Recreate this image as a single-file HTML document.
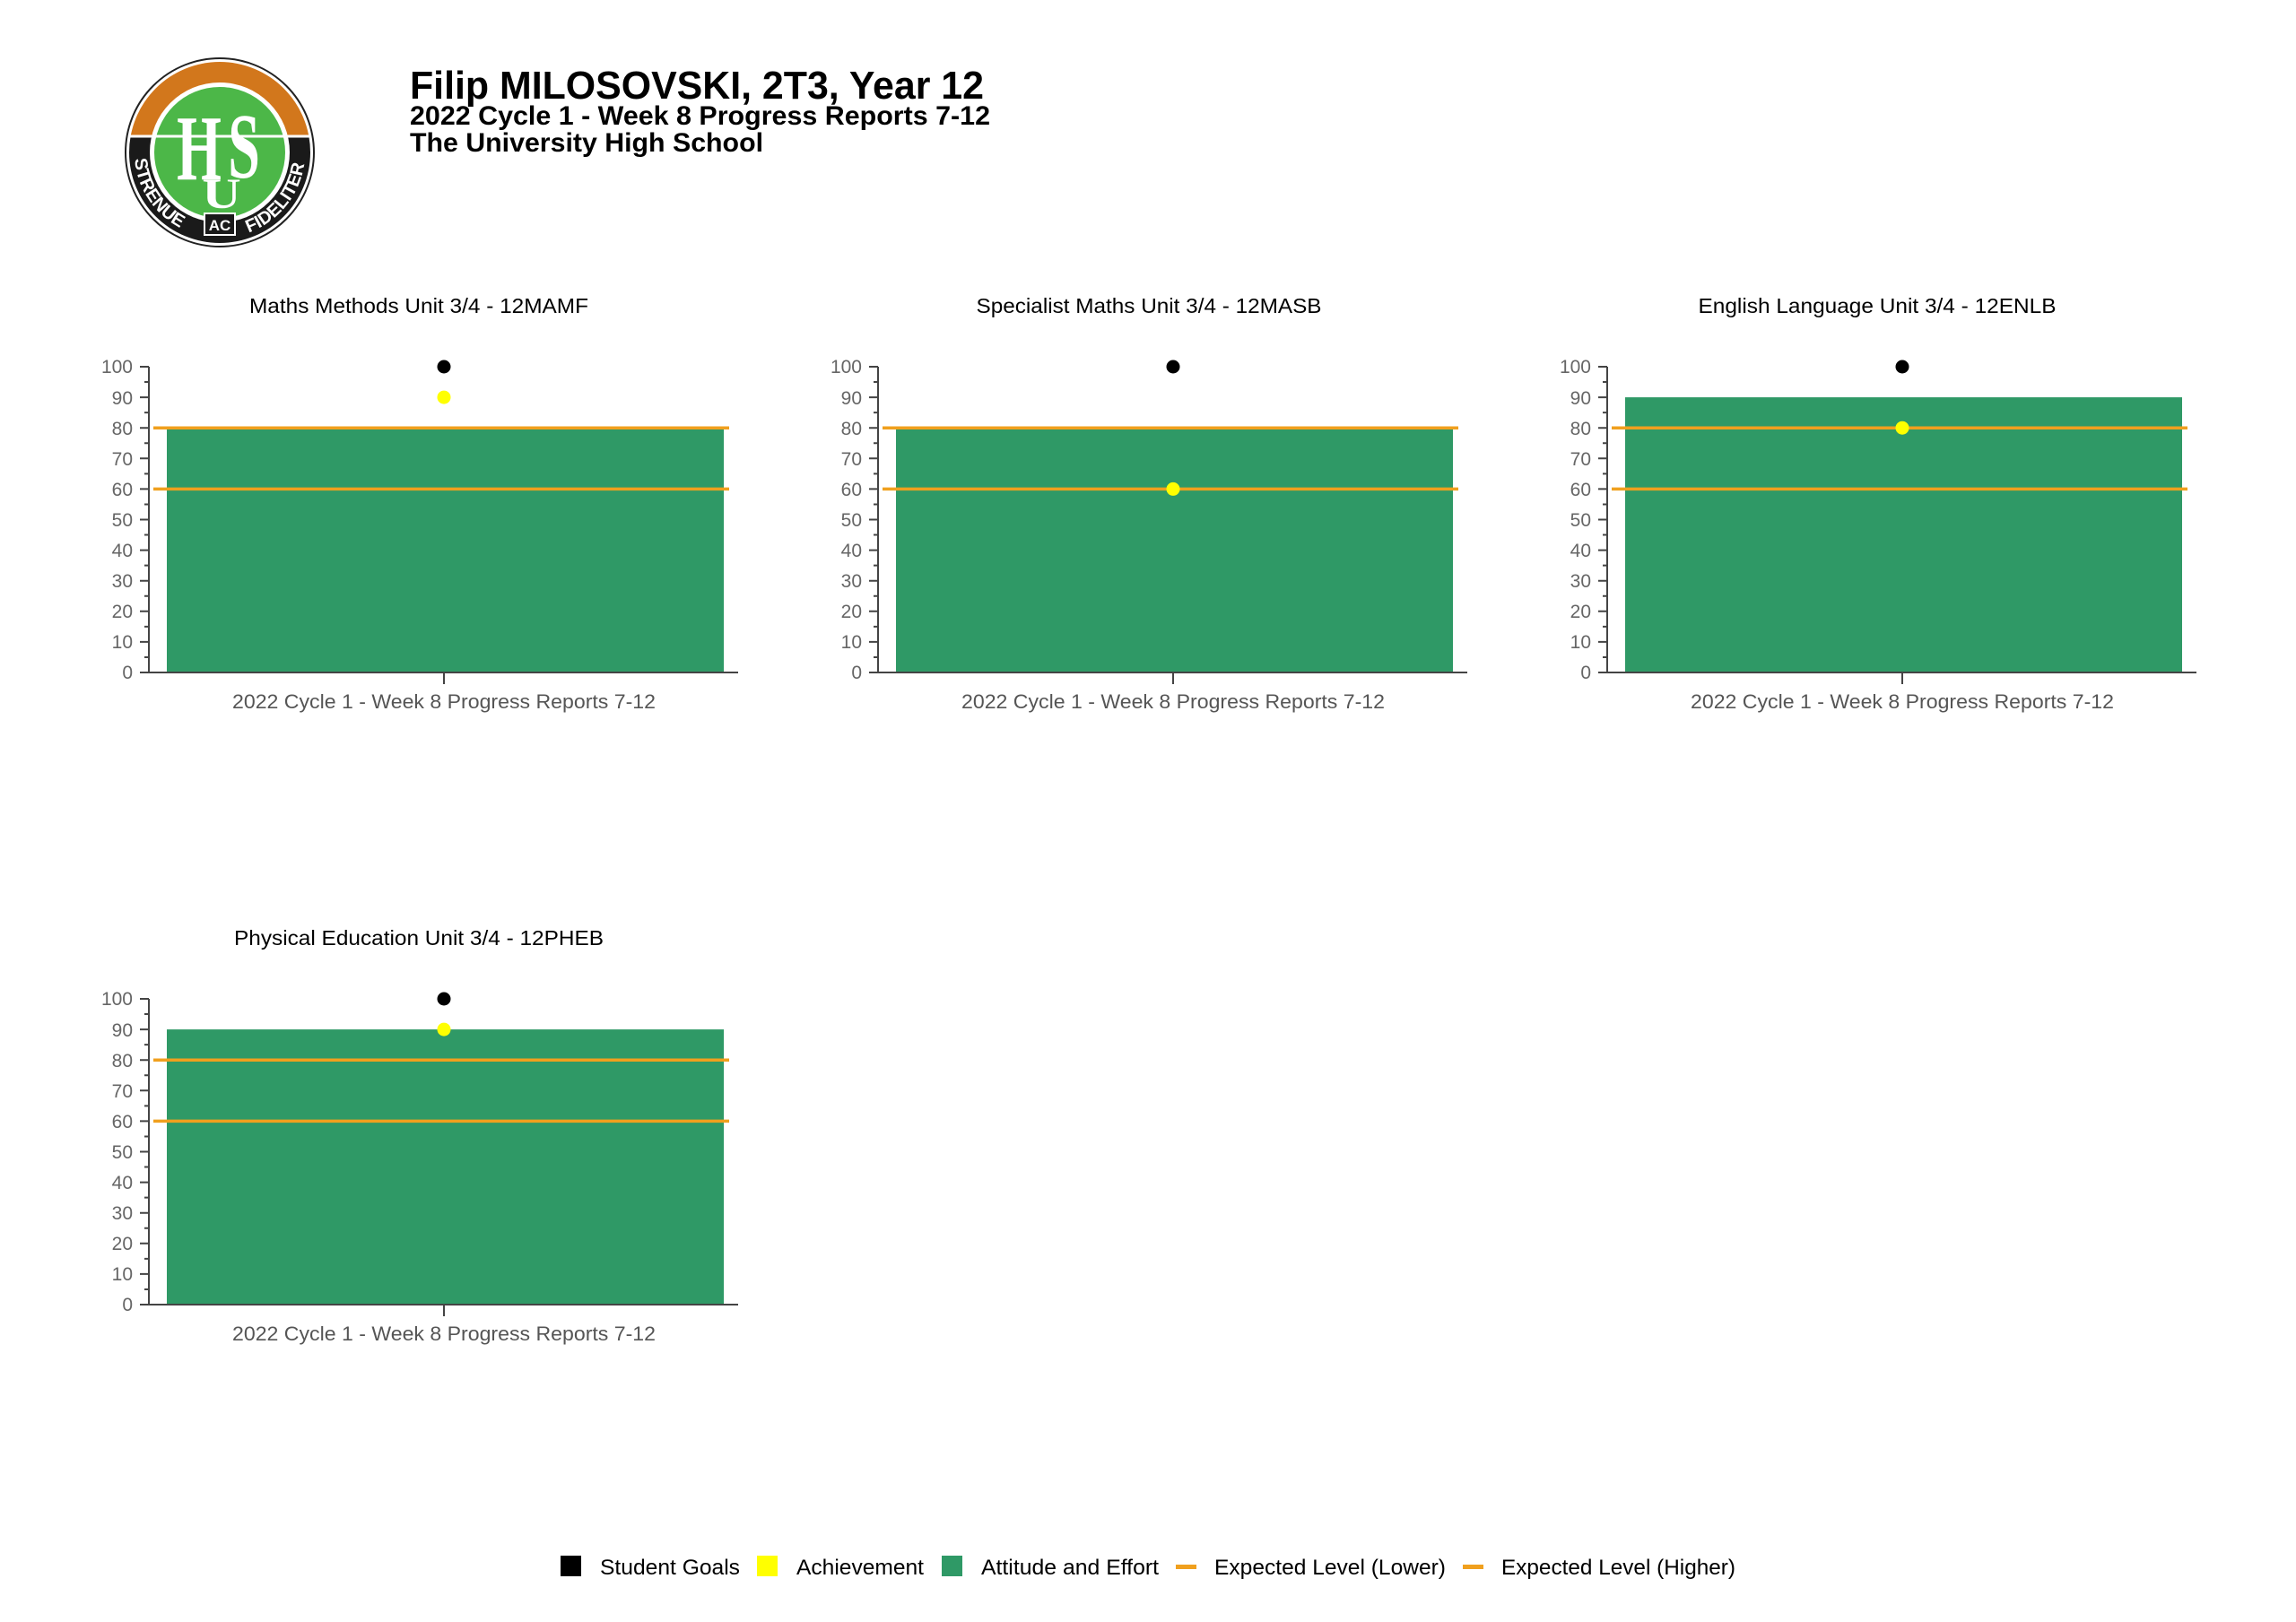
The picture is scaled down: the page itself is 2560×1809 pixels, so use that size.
<!DOCTYPE html>
<html><head><meta charset="utf-8"><style>
html,body{margin:0;padding:0;background:#fff;}
svg{display:block;font-family:"Liberation Sans",Arial,sans-serif;}
</style></head><body>
<svg width="2560" height="1809" viewBox="0 0 2560 1809" xmlns="http://www.w3.org/2000/svg">
<defs>
<clipPath id="top"><rect x="130" y="55" width="240" height="97"/></clipPath>
<clipPath id="bot"><rect x="130" y="152" width="240" height="140"/></clipPath>
<path id="arcL" d="M 150 170 A 95 95 0 0 0 245 265"/>
<path id="arcR" d="M 245 265 A 95 95 0 0 0 340 170"/>
<g id="axis">
<line x1="166" y1="409" x2="166" y2="751" stroke="#444" stroke-width="2"/>
<line x1="165" y1="750" x2="823" y2="750" stroke="#444" stroke-width="2"/>
<line x1="495" y1="750" x2="495" y2="763" stroke="#444" stroke-width="2"/>
<path d="M156 750H166M156 715.9H166M156 681.8H166M156 647.7H166M156 613.6H166M156 579.5H166M156 545.4H166M156 511.3H166M156 477.2H166M156 443.1H166M156 409H166M161 732.95H166M161 698.85H166M161 664.75H166M161 630.65H166M161 596.55H166M161 562.45H166M161 528.35H166M161 494.25H166M161 460.15H166M161 426.05H166" stroke="#444" stroke-width="2"/>
<g font-size="21" fill="#666" text-anchor="end">
<text x="148" y="757">0</text><text x="148" y="723">10</text><text x="148" y="689">20</text><text x="148" y="655">30</text><text x="148" y="621">40</text><text x="148" y="587">50</text><text x="148" y="553">60</text><text x="148" y="519">70</text><text x="148" y="485">80</text><text x="148" y="451">90</text><text x="148" y="416">100</text>
</g>
<text x="495" y="790" font-size="22" fill="#555" text-anchor="middle" textLength="472" lengthAdjust="spacingAndGlyphs">2022 Cycle 1 - Week 8 Progress Reports 7-12</text>
</g>
</defs>

<!-- Logo -->
<circle cx="245" cy="170" r="105" fill="#fff" stroke="#222" stroke-width="2"/>
<circle cx="245" cy="170" r="101" fill="#d2771c" clip-path="url(#top)"/>
<circle cx="245" cy="170" r="101" fill="#1a1a1a" clip-path="url(#bot)"/>
<circle cx="245" cy="170" r="78" fill="#fff"/>
<circle cx="245" cy="170" r="73" fill="#4cb748"/>
<line x1="144" y1="152" x2="346" y2="152" stroke="#fff" stroke-width="3"/>
<text font-size="20" font-weight="bold" fill="#fff"><textPath href="#arcL" startOffset="5%">STRENUE</textPath></text>
<text font-size="20" font-weight="bold" fill="#fff"><textPath href="#arcR" startOffset="22%">FIDELITER</textPath></text>
<rect x="228" y="238" width="34" height="24" fill="#1a1a1a" stroke="#fff" stroke-width="2"/>
<text x="245" y="257" font-size="17" font-weight="bold" fill="#fff" text-anchor="middle">AC</text>
<text transform="translate(222,200) scale(0.8,1.3)" font-size="80" font-weight="bold" fill="#fff" text-anchor="middle" font-family="Liberation Serif,serif">H</text>
<text transform="translate(272,198) scale(0.8,1.3)" font-size="80" font-weight="bold" fill="#fff" text-anchor="middle" font-family="Liberation Serif,serif">S</text>
<text transform="translate(247,232) scale(1,0.8)" font-size="60" font-weight="bold" fill="#fff" text-anchor="middle" font-family="Liberation Serif,serif">U</text>

<!-- Header -->
<text x="457" y="110" font-size="44" font-weight="bold" textLength="640" lengthAdjust="spacingAndGlyphs">Filip MILOSOVSKI, 2T3, Year 12</text>
<text x="457" y="139" font-size="30" font-weight="bold" textLength="647" lengthAdjust="spacingAndGlyphs">2022 Cycle 1 - Week 8 Progress Reports 7-12</text>
<text x="457" y="169" font-size="30" font-weight="bold" textLength="394" lengthAdjust="spacingAndGlyphs">The University High School</text>

<!-- Chart 1 -->
<g>
<text x="467" y="349" font-size="23" text-anchor="middle" textLength="378" lengthAdjust="spacingAndGlyphs">Maths Methods Unit 3/4 - 12MAMF</text>
<rect x="186" y="477.2" width="621" height="272.8" fill="#2f9966"/>
<use href="#axis"/>
<line x1="171" y1="477.2" x2="813" y2="477.2" stroke="#f0a01e" stroke-width="3.5"/>
<line x1="171" y1="545.4" x2="813" y2="545.4" stroke="#f0a01e" stroke-width="3.5"/>
<circle cx="495" cy="409" r="7.5" fill="#000"/>
<circle cx="495" cy="443.1" r="7.5" fill="#ffff00"/>
</g>
<!-- Chart 2 -->
<g transform="translate(813,0)">
<text x="467" y="349" font-size="23" text-anchor="middle" textLength="385" lengthAdjust="spacingAndGlyphs" transform="translate(1,0)">Specialist Maths Unit 3/4 - 12MASB</text>
<rect x="186" y="477.2" width="621" height="272.8" fill="#2f9966"/>
<use href="#axis"/>
<line x1="171" y1="477.2" x2="813" y2="477.2" stroke="#f0a01e" stroke-width="3.5"/>
<line x1="171" y1="545.4" x2="813" y2="545.4" stroke="#f0a01e" stroke-width="3.5"/>
<circle cx="495" cy="409" r="7.5" fill="#000"/>
<circle cx="495" cy="545.4" r="7.5" fill="#ffff00"/>
</g>
<!-- Chart 3 -->
<g transform="translate(1626,0)">
<text x="467" y="349" font-size="23" text-anchor="middle" textLength="399" lengthAdjust="spacingAndGlyphs">English Language Unit 3/4 - 12ENLB</text>
<rect x="186" y="443.1" width="621" height="306.9" fill="#2f9966"/>
<use href="#axis"/>
<line x1="171" y1="477.2" x2="813" y2="477.2" stroke="#f0a01e" stroke-width="3.5"/>
<line x1="171" y1="545.4" x2="813" y2="545.4" stroke="#f0a01e" stroke-width="3.5"/>
<circle cx="495" cy="409" r="7.5" fill="#000"/>
<circle cx="495" cy="477.2" r="7.5" fill="#ffff00"/>
</g>
<!-- Chart 4 -->
<g transform="translate(0,705)">
<text x="467" y="349" font-size="23" text-anchor="middle" textLength="412" lengthAdjust="spacingAndGlyphs">Physical Education Unit 3/4 - 12PHEB</text>
<rect x="186" y="443.1" width="621" height="306.9" fill="#2f9966"/>
<use href="#axis"/>
<line x1="171" y1="477.2" x2="813" y2="477.2" stroke="#f0a01e" stroke-width="3.5"/>
<line x1="171" y1="545.4" x2="813" y2="545.4" stroke="#f0a01e" stroke-width="3.5"/>
<circle cx="495" cy="409" r="7.5" fill="#000"/>
<circle cx="495" cy="443.1" r="7.5" fill="#ffff00"/>
</g>

<!-- Legend -->
<g font-size="24">
<rect x="625" y="1735" width="23" height="23" fill="#000"/>
<text x="669" y="1756" textLength="156" lengthAdjust="spacingAndGlyphs">Student Goals</text>
<rect x="844" y="1735" width="23" height="23" fill="#ffff00"/>
<text x="888" y="1756" textLength="142" lengthAdjust="spacingAndGlyphs">Achievement</text>
<rect x="1050" y="1735" width="23" height="23" fill="#2f9966"/>
<text x="1094" y="1756" textLength="198" lengthAdjust="spacingAndGlyphs">Attitude and Effort</text>
<rect x="1311" y="1745" width="23" height="5" fill="#f0a01e"/>
<text x="1354" y="1756" textLength="258" lengthAdjust="spacingAndGlyphs">Expected Level (Lower)</text>
<rect x="1631" y="1745" width="23" height="5" fill="#f0a01e"/>
<text x="1674" y="1756" textLength="261" lengthAdjust="spacingAndGlyphs">Expected Level (Higher)</text>
</g>
</svg>
</body></html>
